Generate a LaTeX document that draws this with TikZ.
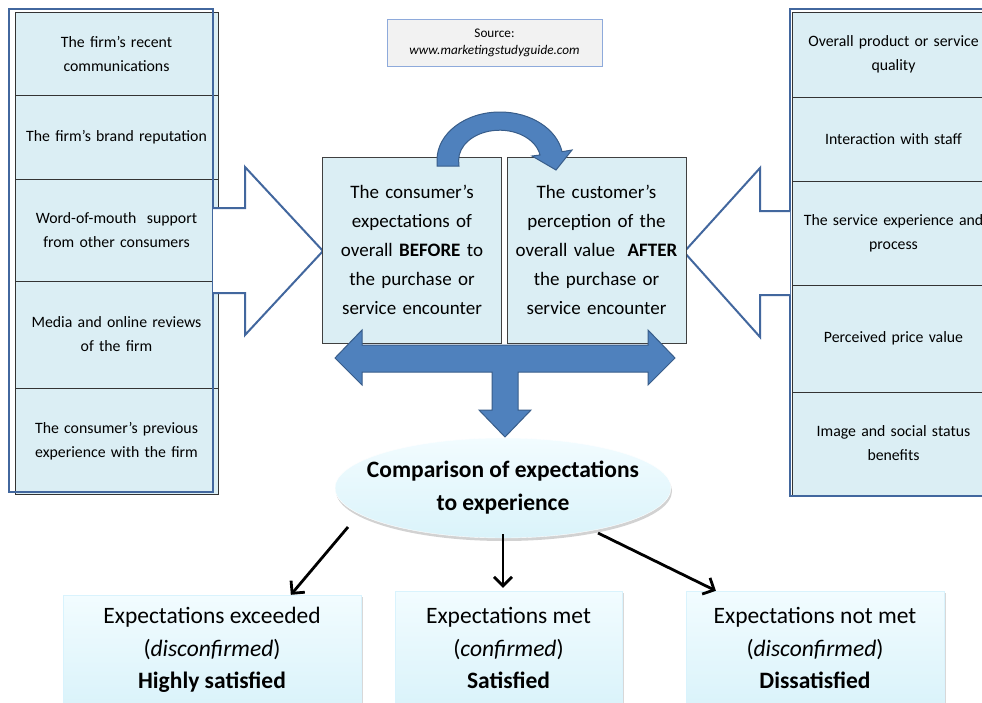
\documentclass[tikz,border=0pt]{standalone}
\usepackage{fontspec}
\setmainfont{Carlito}
\usetikzlibrary{arrows.meta,shapes.geometric,shadows,calc}
\definecolor{cellfill}{RGB}{219,238,244}
\definecolor{restop}{RGB}{242,252,255}
\definecolor{resbot}{RGB}{218,243,250}
\definecolor{blockfill}{RGB}{79,129,189}
\definecolor{blockline}{RGB}{56,93,138}
\definecolor{outline}{RGB}{66,103,158}
\definecolor{srcfill}{RGB}{242,242,242}
\definecolor{srcline}{RGB}{142,170,219}
\tikzset{
  factor/.style={draw=black!80, fill=cellfill, minimum width=203pt, text width=200pt,
    align=center, inner sep=0pt, font=\fontsize{15.8}{24}\selectfont},
  midbox/.style={draw=black!75, line width=1pt, fill=cellfill, minimum width=179pt,
    minimum height=186pt, text width=175pt, align=center, inner sep=0pt,
    font=\fontsize{19}{29}\selectfont},
  resbox/.style={draw=white!85!cyan, top color=restop, bottom color=resbot,
    drop shadow={shadow xshift=2pt, shadow yshift=-2pt, opacity=.3},
    align=center, inner sep=0pt, font=\fontsize{23.5}{32.5}\selectfont},
  cmpell/.style={ellipse, draw=white, top color=restop, bottom color=resbot,
    drop shadow={shadow xshift=1pt, shadow yshift=-3pt, opacity=.35},
    minimum width=336pt, minimum height=100pt, inner sep=0pt},
  cmptxt/.style={align=center, inner sep=0pt, font=\fontsize{23.5}{33}\selectfont\bfseries},
  srcbox/.style={draw=srcline, fill=srcfill, minimum width=215pt, minimum height=47pt,
    align=center, inner sep=0pt, font=\fontsize{13.2}{17}\selectfont},
  outarrow/.style={draw=outline, line width=2pt, line join=miter},
  block/.style={fill=blockfill, draw=blockline, line width=1pt, line join=miter},
  resarrow/.style={line width=2.8pt, -{Straight Barb[length=9pt,width=18pt]}}
}
\begin{document}
\begin{tikzpicture}[x=1pt,y=-1pt]
  \clip (0,0) rectangle (982,702);
  \fill[white] (0,0) rectangle (982,702);

  \node[factor, minimum height=83pt] (l1) at (116.5,53.5) {The firm’s recent\\communications};
  \node[factor, minimum height=84pt] (l2) at (116.5,137) {The firm’s brand reputation};
  \node[factor, minimum height=102pt] (l3) at (116.5,230) {Word-of-mouth\ \ support\\from other consumers};
  \node[factor, minimum height=107pt] (l4) at (116.5,334.5) {Media and online reviews\\of the firm};
  \node[factor, minimum height=106pt] (l5) at (116.5,441) {The consumer’s previous\\experience with the firm};
  \draw[outarrow] (9,9) rectangle (213,492);

  \node[factor, minimum height=85pt] (r1) at (893.5,54.5) {Overall product or service\\quality};
  \node[factor, minimum height=84pt] (r2) at (893.5,139) {Interaction with staff};
  \node[factor, minimum height=104pt] (r3) at (893.5,233) {The service experience and\\process};
  \node[factor, minimum height=107pt] (r4) at (893.5,338.5) {Perceived price value};
  \node[factor, minimum height=103pt] (r5) at (893.5,443.5) {Image and social status\\benefits};
  \draw[outarrow] (790,9) rectangle (1000,496);

  \fill[white] (213,208) -- (245,208) -- (245,167) -- (323,251) -- (245,335) -- (245,293) -- (213,293) -- cycle;
  \draw[outarrow] (213,208) -- (245,208) -- (245,167) -- (323,251) -- (245,335) -- (245,293) -- (213,293);
  \fill[white] (790,211) -- (760,211) -- (760,168) -- (684,252) -- (760,337) -- (760,295) -- (790,295) -- cycle;
  \draw[outarrow] (790,211) -- (760,211) -- (760,168) -- (684,252) -- (760,337) -- (760,295) -- (790,295);

  \node[srcbox] (src) at (494.5,42.5) {Source:\\\textit{www.marketingstudyguide.com}};

  \node[midbox] (before) at (412,250) {The consumer’s\\expectations of\\overall \textbf{BEFORE} to\\the purchase or\\service encounter};
  \node[midbox] (after) at (596.5,250) {The customer’s\\perception of the\\overall value\ \ \textbf{AFTER}\\the purchase or\\service encounter};

  \path[block] (437,166) -- (437,160) arc[start angle=180, end angle=350, x radius=63, y radius=48]
    -- (572,150) -- (556,170) -- (532,156) -- (540,155)
    arc[start angle=350, end angle=180, x radius=41, y radius=30] -- (459,166) -- cycle;

  \path[block] (335,358) -- (362,330) -- (362,345) -- (648,345) -- (648,330) -- (675,358)
    -- (648,385) -- (648,372) -- (518,372) -- (518,410) -- (531,410) -- (505,437)
    -- (479,410) -- (492,410) -- (492,372) -- (362,372) -- (362,385) -- cycle;

  \node[cmpell] (cmp) at (503,488) {};
  \node[cmptxt] (cmptext) at (cmp.center) {Comparison of expectations\\to experience};

  \node[resbox, minimum width=298pt, minimum height=110pt] (exc) at (212,650) {Expectations exceeded\\(\textit{disconfirmed})\\\textbf{Highly satisfied}};
  \node[resbox, minimum width=227pt, minimum height=114pt] (met) at (508.5,648) {Expectations met\\(\textit{confirmed})\\\textbf{Satisfied}};
  \node[resbox, minimum width=258pt, minimum height=114pt] (notmet) at (815,648) {Expectations not met\\(\textit{disconfirmed})\\\textbf{Dissatisfied}};

  \draw[resarrow] ($(cmp.center)+(-155,39)$) -- (exc.35);
  \draw[resarrow] ($(cmp.center)+(0,46)$) -- ($(met.north)+(-5.5,-3)$);
  \draw[resarrow] ($(cmp.center)+(95,45)$) -- (notmet.150);
\end{tikzpicture}
\end{document}
